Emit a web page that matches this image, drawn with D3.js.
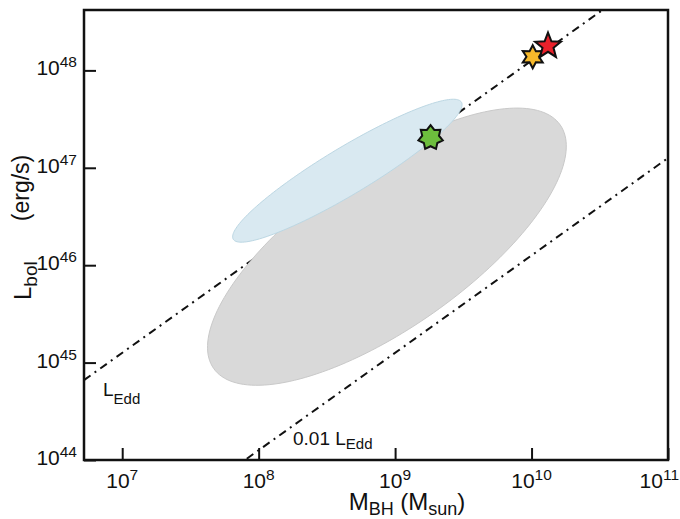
<!DOCTYPE html>
<html>
<head>
<meta charset="utf-8">
<script src="https://cdn.jsdelivr.net/npm/d3@7"></script>
<style>
  body { margin: 0; background: #fff; }
  text { font-family: "Liberation Sans", Arial, sans-serif; fill: #111; }
</style>
</head>
<body>
<div id="chart"></div>
<script>
// ---------------------------//
//       DATA                 //
// ---------------------------//
var xTicks = [1e7, 1e8, 1e9, 1e10, 1e11];
var xTickExp = ["7", "8", "9", "10", "11"];
var yTicks = [1e44, 1e45, 1e46, 1e47, 1e48];
var yTickExp = ["44", "45", "46", "47", "48"];

// Eddington lines: L = fraction * 1.26e38 * M
var eddFraction = [1, 0.01];
var eddLabelMain = ["L", "0.01 L"];
var eddLabelSub = ["Edd", "Edd"];

// error ellipses, in dex: centre (log M, log L) and two half-axis vectors
var ellipseNames = ["sample", "reference"];
var ellipseCentre = [[8.94, 46.19], [8.65, 46.97]];
var ellipseAxisA = [[1.27, 1.25], [0.836, 0.704]];
var ellipseAxisB = [[-0.34, 0.68], [-0.089, 0.207]];

// individual objects
var starNames = ["red", "yellow", "green"];
var starMass = [1.32e10, 1.02e10, 1.82e9];
var starLum = [1.78e48, 1.38e48, 2.04e47];

// ---------------------------//
//       STYLE                //
// ---------------------------//
var ellipseFill = ["#d9d9d9", "#d9e9f1"];
var ellipseStroke = ["#c9c9c9", "#bcd7e3"];
var starFill = ["#e8212b", "#f6b92b", "#6dbd3d"];
var starPoints = [5, 6, 7];
var starOuter = [13.5, 11.5, 12.5];
var starInner = [5.8, 6.3, 8.6];

var width = 680, height = 519;
var plot = {left: 84, top: 10, right: 668, bottom: 460};

var svg = d3.select("#chart")
  .append("svg")
  .attr("width", width)
  .attr("height", height);

// ---------------------------//
//       AXIS  AND SCALE      //
// ---------------------------//
var x = d3.scaleLog()
  .domain([Math.pow(10, 6.72), 1e11])
  .range([plot.left, plot.right]);

var y = d3.scaleLog()
  .domain([1e44, Math.pow(10, 48.62)])
  .range([plot.bottom, plot.top]);

svg.append("clipPath")
  .attr("id", "clip")
  .append("rect")
  .attr("x", plot.left)
  .attr("y", plot.top)
  .attr("width", plot.right - plot.left)
  .attr("height", plot.bottom - plot.top);

var inner = svg.append("g").attr("clip-path", "url(#clip)");

// Eddington lines (under the ellipses)
var line = d3.line()
  .x(function(d) { return x(d[0]); })
  .y(function(d) { return y(d[1]); });

eddFraction.forEach(function(f) {
  var m0 = x.domain()[0], m1 = x.domain()[1];
  inner.append("path")
    .attr("d", line([[m0, f * 1.26e38 * m0], [m1, f * 1.26e38 * m1]]))
    .attr("fill", "none")
    .attr("stroke", "#111")
    .attr("stroke-width", 2)
    .attr("stroke-dasharray", "8,5,2,5");
});

// ellipses
ellipseNames.forEach(function(name, i) {
  var pts = d3.range(0, 181).map(function(k) {
    var t = k / 180 * 2 * Math.PI;
    var lm = ellipseCentre[i][0] + ellipseAxisA[i][0] * Math.cos(t) + ellipseAxisB[i][0] * Math.sin(t);
    var ll = ellipseCentre[i][1] + ellipseAxisA[i][1] * Math.cos(t) + ellipseAxisB[i][1] * Math.sin(t);
    return [Math.pow(10, lm), Math.pow(10, ll)];
  });
  inner.append("path")
    .attr("class", "ellipse " + name)
    .attr("d", line(pts) + "Z")
    .attr("fill", ellipseFill[i])
    .attr("stroke", ellipseStroke[i])
    .attr("stroke-width", 1);
});

// stars
function starPath(n, r1, r2) {
  var p = [];
  for (var k = 0; k < 2 * n; k++) {
    var a = -Math.PI / 2 + k * Math.PI / n;
    var r = k % 2 === 0 ? r1 : r2;
    p.push([r * Math.cos(a), r * Math.sin(a)]);
  }
  return "M" + p.join("L") + "Z";
}

// draw green first, red on top
[2, 1, 0].forEach(function(i) {
  svg.append("path")
    .attr("d", starPath(starPoints[i], starOuter[i], starInner[i]))
    .attr("transform", "translate(" + x(starMass[i]) + "," + y(starLum[i]) + ")")
    .attr("fill", starFill[i])
    .attr("stroke", "#111")
    .attr("stroke-width", 2)
    .attr("stroke-linejoin", "miter");
});

// ticks (pointing inward)
svg.append("g")
  .attr("transform", "translate(0," + plot.bottom + ")")
  .call(d3.axisBottom(x).tickValues(xTicks).tickSize(-12).tickFormat(""))
  .call(function(g) { g.select(".domain").remove(); })
  .selectAll("line").attr("stroke", "#111").attr("stroke-width", 2);

svg.append("g")
  .attr("transform", "translate(" + plot.left + ",0)")
  .call(d3.axisLeft(y).tickValues(yTicks).tickSize(-12).tickFormat(""))
  .call(function(g) { g.select(".domain").remove(); })
  .selectAll("line").attr("stroke", "#111").attr("stroke-width", 2);

// frame
svg.append("rect")
  .attr("x", plot.left)
  .attr("y", plot.top)
  .attr("width", plot.right - plot.left)
  .attr("height", plot.bottom - plot.top)
  .attr("fill", "none")
  .attr("stroke", "#111")
  .attr("stroke-width", 2.5);

// tick labels
xTicks.forEach(function(v, i) {
  var last = i === xTicks.length - 1;
  var t = svg.append("text")
    .attr("x", last ? 679 : x(v))
    .attr("y", 488)
    .attr("text-anchor", last ? "end" : "middle")
    .style("font-size", "21px");
  t.append("tspan").text("10");
  t.append("tspan").attr("dy", -8).style("font-size", "15.5px").text(xTickExp[i]);
});

yTicks.forEach(function(v, i) {
  var t = svg.append("text")
    .attr("x", 77)
    .attr("y", y(v) + 5)
    .attr("text-anchor", "end")
    .style("font-size", "21px");
  t.append("tspan").text("10");
  t.append("tspan").attr("dy", -8).style("font-size", "15.5px").text(yTickExp[i]);
});

// axis titles
var xt = svg.append("text")
  .attr("x", 407)
  .attr("y", 510)
  .attr("text-anchor", "middle")
  .style("font-size", "24px");
xt.append("tspan").text("M");
xt.append("tspan").attr("dy", 5).style("font-size", "18px").text("BH");
xt.append("tspan").attr("dy", -5).text(" (M");
xt.append("tspan").attr("dy", 5).style("font-size", "18px").text("sun");
xt.append("tspan").attr("dy", -5).text(")");

var yt = svg.append("text")
  .attr("transform", "translate(31,300) rotate(-90)")
  .attr("text-anchor", "start")
  .style("font-size", "24px");
yt.append("tspan").text("L");
yt.append("tspan").attr("dy", 6).style("font-size", "19px").text("bol");

svg.append("text")
  .attr("transform", "translate(29,188) rotate(-90)")
  .attr("text-anchor", "middle")
  .style("font-size", "23px")
  .text("(erg/s)");

// line labels
var eddPos = [[103, 396], [293, 445]];
eddLabelMain.forEach(function(s, i) {
  var t = svg.append("text")
    .attr("x", eddPos[i][0])
    .attr("y", eddPos[i][1])
    .style("font-size", "19px");
  t.append("tspan").text(s);
  t.append("tspan").attr("dy", i === 0 ? 8 : 4).style("font-size", "15px").text(eddLabelSub[i]);
});
</script>
</body>
</html>
